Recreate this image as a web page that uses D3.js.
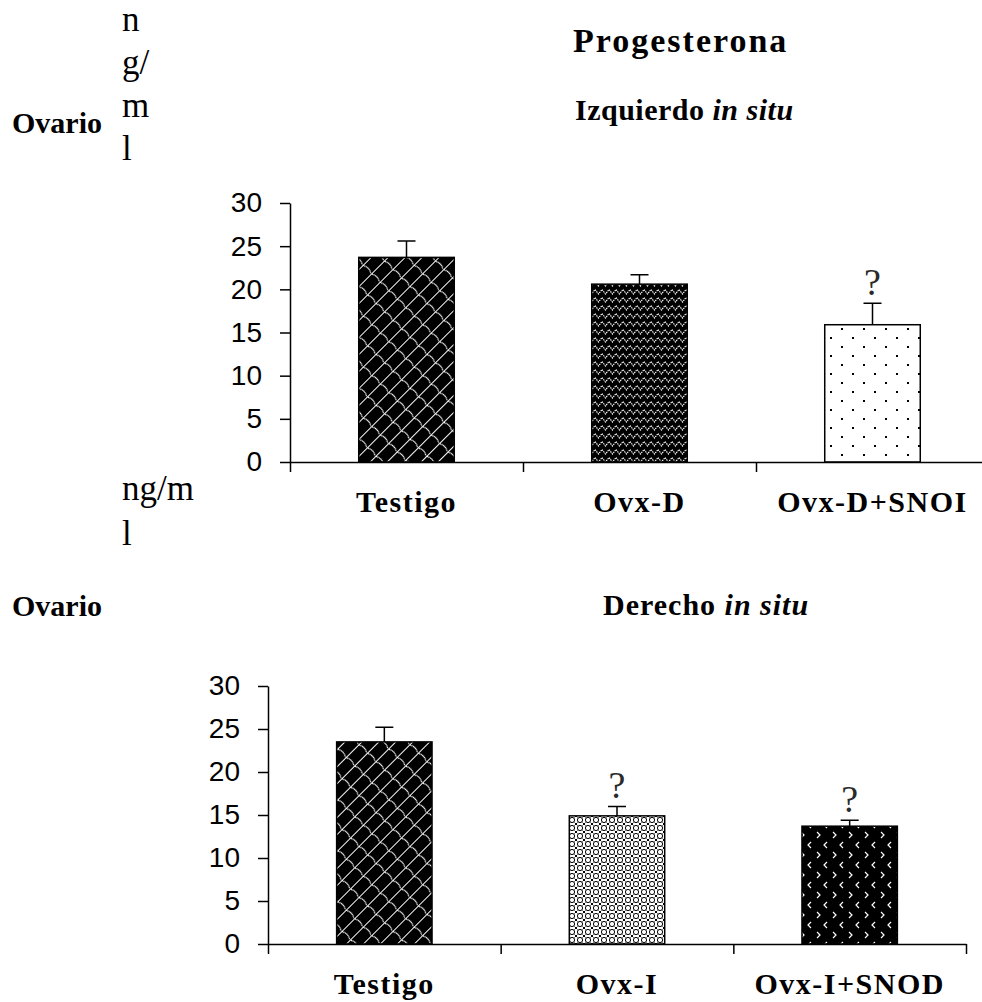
<!DOCTYPE html>
<html>
<head>
<meta charset="utf-8">
<script src="https://cdn.jsdelivr.net/npm/d3@7"></script>
<style>
  body { margin: 0; background: #fff; }
  text { font-family: "Liberation Serif", "Times New Roman", serif; }
  .tick text { font-family: "Liberation Sans", Arial, sans-serif; font-size: 28px; fill: #000; }
</style>
</head>
<body>
<div id="chart"></div>
<script>
// data (ng/ml)
var topCats = ["Testigo", "Ovx-D", "Ovx-D+SNOI"];
var topVals = [23.7, 20.6, 15.9];
var topErr = [1.9, 1.1, 2.5];
var topSig = [false, false, true];
var topFills = ["pTestigo", "pOvxD", "pSnoi"];

var botCats = ["Testigo", "Ovx-I", "Ovx-I+SNOD"];
var botVals = [23.5, 14.9, 13.7];
var botErr = [1.7, 1.1, 0.7];
var botSig = [false, true, true];
var botFills = ["pTestigo", "pOvxI", "pSnod"];

var yTicks = [0, 5, 10, 15, 20, 25, 30];

var W = 982, H = 1002;
var svg = d3.select("#chart").append("svg")
    .attr("width", W)
    .attr("height", H);
svg.append("rect").attr("width", W).attr("height", H).attr("fill", "#fff");

// hatch patterns for the bars
var defs = svg.append("defs");

var p1 = defs.append("pattern").attr("id", "pTestigo")
    .attr("patternUnits", "userSpaceOnUse")
    .attr("width", 12).attr("height", 18)
    .attr("patternTransform", "rotate(45)");
p1.append("rect").attr("width", 12).attr("height", 18).attr("fill", "#000");
p1.append("path").attr("d", "M0.5,0 L0.5,18 M0.5,3 Q6,-0.5 11.5,3")
    .attr("stroke", "#fff").attr("stroke-width", 1).attr("fill", "none");

var p2 = defs.append("pattern").attr("id", "pOvxD")
    .attr("patternUnits", "userSpaceOnUse")
    .attr("width", 14).attr("height", 8);
p2.append("rect").attr("width", 14).attr("height", 8).attr("fill", "#000");
p2.append("path").attr("d", "M0,1.5 L3.5,6 L7,1.5 L10.5,6 L14,1.5")
    .attr("stroke", "#fff").attr("stroke-width", 1.1).attr("stroke-dasharray", "1.5,0.8").attr("fill", "none");

var p3 = defs.append("pattern").attr("id", "pSnoi")
    .attr("patternUnits", "userSpaceOnUse")
    .attr("width", 22).attr("height", 18);
p3.append("rect").attr("width", 22).attr("height", 18).attr("fill", "#fff");
p3.append("rect").attr("x", 5).attr("y", 4).attr("width", 2).attr("height", 2).attr("fill", "#000");
p3.append("rect").attr("x", 16).attr("y", 13).attr("width", 2).attr("height", 2).attr("fill", "#000");

var p4 = defs.append("pattern").attr("id", "pOvxI")
    .attr("patternUnits", "userSpaceOnUse")
    .attr("width", 8).attr("height", 8);
p4.append("rect").attr("width", 8).attr("height", 8).attr("fill", "#fff");
p4.append("circle").attr("cx", 4).attr("cy", 4).attr("r", 2.6)
    .attr("stroke", "#000").attr("stroke-width", 1).attr("fill", "none");
p4.append("path").attr("d", "M0,0 L1.5,1.5 M8,0 L6.5,1.5 M0,8 L1.5,6.5 M8,8 L6.5,6.5")
    .attr("stroke", "#000").attr("stroke-width", 1);

var p5 = defs.append("pattern").attr("id", "pSnod")
    .attr("patternUnits", "userSpaceOnUse")
    .attr("width", 16).attr("height", 20);
p5.append("rect").attr("width", 16).attr("height", 20).attr("fill", "#000");
p5.append("path").attr("d", "M11,2 L8,5 L11,8 M1,12 L4,15 L1,18")
    .attr("stroke", "#fff").attr("stroke-width", 1.2).attr("fill", "none");

function drawPanel(cats, vals, errs, sig, fills, left, right, y0, y30) {
    var y = d3.scaleLinear().domain([0, 30]).range([y0, y30]);
    var x = d3.scaleBand().domain(cats).range([left, right]).padding(0);
    var xb = d3.scaleLinear().domain([0, cats.length]).range([left, right]);
    var barW = x.bandwidth() * 0.41;

    var g = svg.append("g");

    // bars
    g.selectAll("rect.bar")
        .data(cats)
        .enter()
        .append("rect")
        .attr("class", "bar")
        .attr("x", function(d) { return x(d) + (x.bandwidth() - barW) / 2; })
        .attr("y", function(d, i) { return y(vals[i]); })
        .attr("width", barW)
        .attr("height", function(d, i) { return y(0) - y(vals[i]); })
        .attr("fill", function(d, i) { return "url(#" + fills[i] + ")"; })
        .attr("stroke", "#000")
        .attr("stroke-width", 1.5);

    // error bars (upper half only)
    g.selectAll("path.err")
        .data(cats)
        .enter()
        .append("path")
        .attr("class", "err")
        .attr("d", function(d, i) {
            var cx = x(d) + x.bandwidth() / 2;
            var t = y(vals[i] + errs[i]);
            return "M" + cx + "," + y(vals[i]) + "V" + t + "M" + (cx - 9) + "," + t + "H" + (cx + 9);
        })
        .attr("stroke", "#000")
        .attr("stroke-width", 1.5)
        .attr("fill", "none");

    // significance marks
    g.selectAll("text.sig")
        .data(cats.filter(function(d, i) { return sig[i]; }))
        .enter()
        .append("text")
        .attr("class", "sig")
        .attr("x", function(d) { return x(d) + x.bandwidth() / 2; })
        .attr("y", function(d) { var i = cats.indexOf(d); return y(vals[i] + errs[i]) - 8; })
        .attr("text-anchor", "middle")
        .style("font-size", "38px")
        .attr("fill", "#2a2a2a")
        .text("?");

    // x axis with ticks between groups
    var xa = g.append("g")
        .attr("transform", "translate(0," + y(0) + ")")
        .call(d3.axisBottom(xb).tickValues(d3.range(cats.length + 1)).tickFormat("").tickSize(10).tickSizeOuter(0));
    xa.select(".domain").attr("stroke-width", 1.5);
    xa.selectAll(".tick line").attr("stroke-width", 1.5);

    // y axis
    var ya = g.append("g")
        .attr("transform", "translate(" + left + ",0)")
        .call(d3.axisLeft(y).tickValues(yTicks).tickSize(10).tickSizeOuter(0).tickPadding(18));
    ya.select(".domain").attr("stroke-width", 1.5);
    ya.selectAll(".tick line").attr("stroke-width", 1.5);

    // category labels
    g.selectAll("text.cat")
        .data(cats)
        .enter()
        .append("text")
        .attr("class", "cat")
        .attr("x", function(d) { return x(d) + x.bandwidth() / 2; })
        .attr("y", y(0) + 50)
        .attr("text-anchor", "middle")
        .style("font-size", "30px")
        .style("font-weight", "bold")
        .style("letter-spacing", "1.5px")
        .text(function(d) { return d; });
}

drawPanel(topCats, topVals, topErr, topSig, topFills, 290, 989, 462, 203);
drawPanel(botCats, botVals, botErr, botSig, botFills, 268, 966, 944, 686);

// titles and loose labels
svg.append("text").attr("x", 573).attr("y", 52)
    .style("font-size", "34px").style("font-weight", "bold").style("letter-spacing", "2px")
    .text("Progesterona");

function subTitle(xp, yp, word, ls) {
    var t = svg.append("text").attr("x", xp).attr("y", yp)
        .style("font-size", "30px").style("font-weight", "bold").style("letter-spacing", ls);
    t.append("tspan").text(word + " ");
    t.append("tspan").style("font-style", "italic").text("in situ");
}
subTitle(575, 120, "Izquierdo", "0.5px");
subTitle(603, 615, "Derecho", "1px");

svg.append("text").attr("x", 12).attr("y", 133)
    .style("font-size", "30px").style("font-weight", "bold").text("Ovario");
svg.append("text").attr("x", 12).attr("y", 616)
    .style("font-size", "30px").style("font-weight", "bold").text("Ovario");

// unit label, wrapped as in the source
var unitTop = ["n", "g/", "m", "l"];
var unitTopY = [31, 74, 117, 160];
svg.selectAll("text.unitA")
    .data(unitTop)
    .enter()
    .append("text")
    .attr("class", "unitA")
    .attr("x", 122)
    .attr("y", function(d, i) { return unitTopY[i]; })
    .style("font-size", "35px")
    .text(function(d) { return d; });

var unitBot = ["ng/m", "l"];
var unitBotY = [500, 545];
svg.selectAll("text.unitB")
    .data(unitBot)
    .enter()
    .append("text")
    .attr("class", "unitB")
    .attr("x", 122)
    .attr("y", function(d, i) { return unitBotY[i]; })
    .style("font-size", "35px")
    .text(function(d) { return d; });
</script>
</body>
</html>
